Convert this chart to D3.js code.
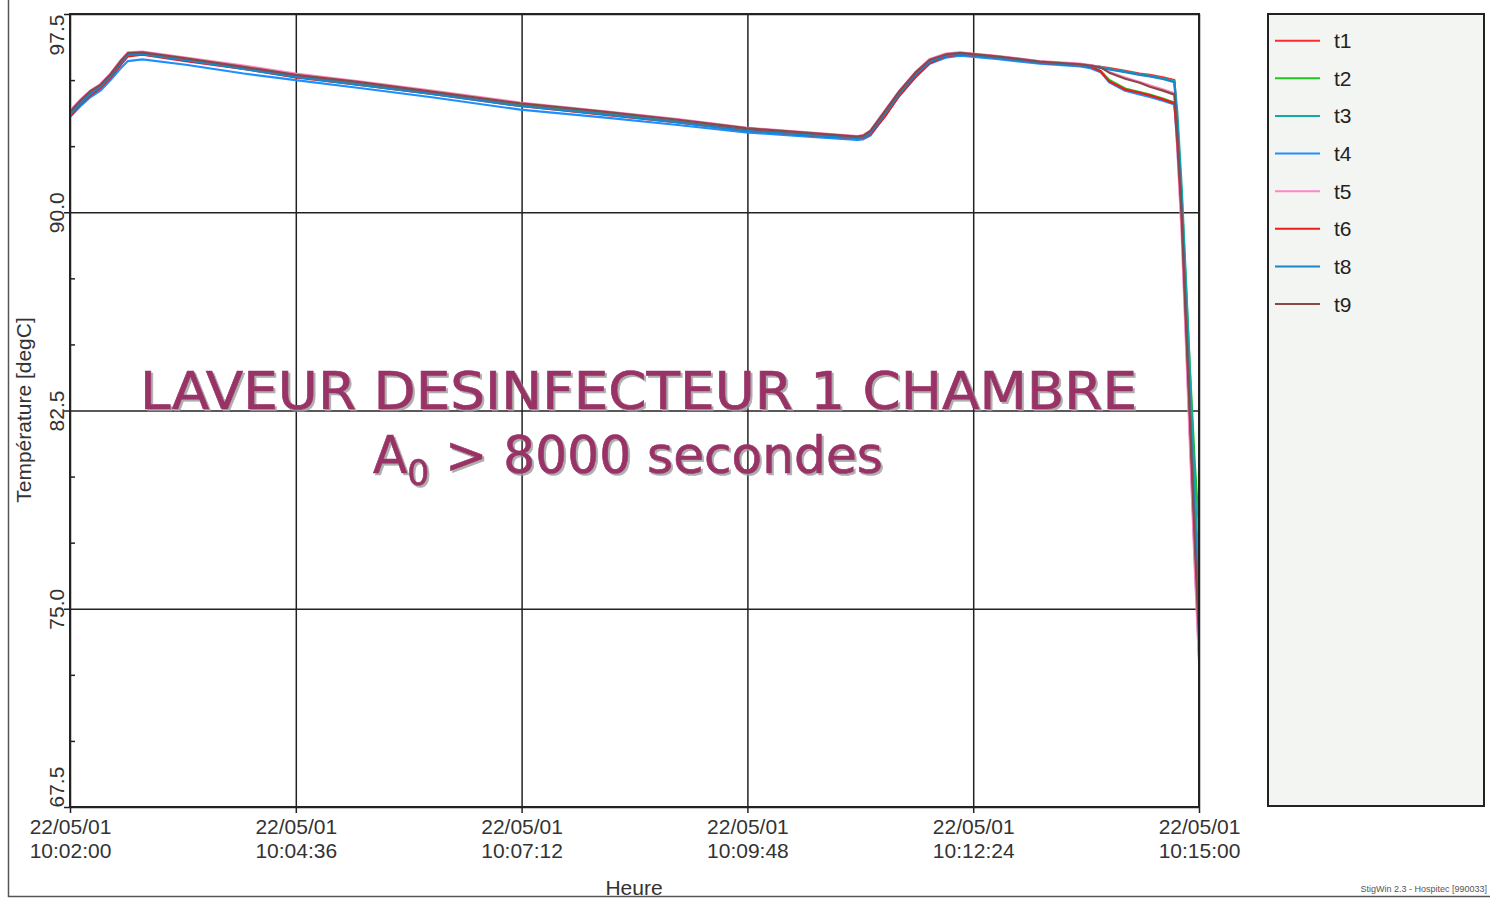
<!DOCTYPE html>
<html>
<head>
<meta charset="utf-8">
<script src="https://cdn.jsdelivr.net/npm/d3@7"></script>
<style>
  body { margin: 0; background: #fff; }
  svg { display: block; font-family: "Liberation Sans", Arial, sans-serif; }
</style>
</head>
<body>
<svg id="chart" width="1490" height="898"></svg>
<script>
// cycle start, all samples are seconds after this
const startTime = new Date(2001, 4, 22, 10, 2, 0);

const seconds = [0, 7, 14, 21, 28, 35, 40, 50, 80, 120, 156, 200, 250, 311, 370, 420, 467, 510,
  544, 548, 553, 563, 573, 584, 594, 605, 615, 640, 670, 698, 705, 712,
  718, 729, 739, 746, 755, 763, 765, 768, 771, 774, 777, 780];

const t1 = [93.65, 94.1, 94.45, 94.72, 95.1, 95.6, 95.92, 96.0, 95.75, 95.45, 95.12, 94.85, 94.5, 94.05, 93.72, 93.42, 93.12, 92.95,
  92.82, 92.84, 92.95, 93.65, 94.45, 95.15, 95.68, 95.92, 96.0, 95.88, 95.68, 95.6, 95.55, 95.5,
  95.45, 95.35, 95.25, 95.2, 95.1, 95.0, 93.4, 90.4, 86.4, 82.4, 78.2, 74.0];
const t2 = [93.72, 94.15, 94.52, 94.78, 95.18, 95.66, 95.97, 96.02, 95.8, 95.48, 95.15, 94.86, 94.52, 94.08, 93.75, 93.45, 93.14, 92.96,
  92.83, 92.86, 93.02, 93.75, 94.52, 95.22, 95.72, 95.93, 96.0, 95.88, 95.68, 95.58, 95.5, 95.35,
  95.0, 94.68, 94.55, 94.45, 94.3, 94.15, 93.0, 90.6, 87.2, 83.8, 80.6, 78.0];
const t3 = [93.75, 94.2, 94.55, 94.8, 95.2, 95.7, 96.0, 96.05, 95.82, 95.5, 95.2, 94.9, 94.55, 94.12, 93.78, 93.48, 93.16, 92.98,
  92.84, 92.88, 93.05, 93.78, 94.55, 95.25, 95.75, 95.95, 96.02, 95.9, 95.7, 95.6, 95.55, 95.5,
  95.42, 95.32, 95.22, 95.16, 95.06, 94.96, 93.8, 91.0, 87.4, 83.6, 79.8, 76.0];
const t4 = [93.6, 94.0, 94.35, 94.6, 95.0, 95.45, 95.72, 95.78, 95.58, 95.25, 95.0, 94.7, 94.35, 93.88, 93.58, 93.3, 93.02, 92.86,
  92.74, 92.76, 92.9, 93.65, 94.4, 95.1, 95.62, 95.85, 95.92, 95.8, 95.62, 95.52, 95.45, 95.3,
  94.92, 94.6, 94.46, 94.36, 94.22, 94.08, 92.5, 89.6, 85.4, 81.2, 77.0, 73.2];
const t5 = [93.85, 94.25, 94.6, 94.85, 95.25, 95.75, 96.05, 96.08, 95.85, 95.55, 95.25, 94.95, 94.6, 94.15, 93.82, 93.52, 93.2, 93.02,
  92.88, 92.92, 93.1, 93.85, 94.6, 95.3, 95.8, 96.0, 96.05, 95.92, 95.72, 95.62, 95.57, 95.5,
  95.3, 95.1, 94.93, 94.8, 94.65, 94.5, 92.4, 89.2, 85.0, 80.8, 76.6, 73.0];
const t6 = [93.62, 94.08, 94.42, 94.7, 95.1, 95.58, 95.9, 95.96, 95.72, 95.42, 95.1, 94.82, 94.48, 94.02, 93.68, 93.4, 93.1, 92.92,
  92.8, 92.82, 92.95, 93.62, 94.42, 95.12, 95.65, 95.9, 95.97, 95.86, 95.66, 95.56, 95.5, 95.33,
  94.95, 94.64, 94.52, 94.42, 94.27, 94.12, 92.7, 90.0, 86.0, 82.0, 78.0, 74.5];
const t8 = [93.7, 94.12, 94.48, 94.75, 95.15, 95.65, 95.95, 95.98, 95.75, 95.42, 95.12, 94.82, 94.48, 94.02, 93.7, 93.4, 93.08, 92.92,
  92.8, 92.84, 93.0, 93.72, 94.5, 95.2, 95.7, 95.92, 95.98, 95.85, 95.66, 95.56, 95.52, 95.46,
  95.4, 95.3, 95.2, 95.14, 95.04, 94.92, 93.2, 90.2, 86.2, 82.2, 78.4, 75.0];
const t9 = [93.8, 94.22, 94.58, 94.82, 95.22, 95.72, 96.02, 96.05, 95.82, 95.5, 95.2, 94.92, 94.56, 94.12, 93.8, 93.5, 93.18, 93.0,
  92.86, 92.9, 93.08, 93.82, 94.58, 95.28, 95.77, 95.97, 96.03, 95.9, 95.7, 95.6, 95.55, 95.48,
  95.28, 95.05, 94.9, 94.75, 94.6, 94.45, 92.9, 89.9, 85.8, 81.8, 77.6, 73.8];

const seriesNames = ["t1", "t2", "t3", "t4", "t5", "t6", "t8", "t9"];
const seriesValues = [t1, t2, t3, t4, t5, t6, t8, t9];
const seriesColors = ["#ff2b2b", "#22c422", "#13a9a6", "#1e8fff", "#ff85c6", "#ee1b1b", "#1a86c8", "#8a4848"];

const xTickSeconds = [0, 156, 312, 468, 624, 780];
const yMajorTicks = [67.5, 75, 82.5, 90, 97.5];
const yMinorTicks = [70, 72.5, 77.5, 80, 85, 87.5, 92.5, 95];

const chartTitle = "LAVEUR DESINFECTEUR 1 CHAMBRE";
const chartSubtitle = ["A", "0", " > 8000 secondes"];

const settings = {
  left: 70, top: 14, right: 1199, bottom: 807,
  legendX: 1268, legendW: 216, legendTop: 14, legendBottom: 806,
  fontSize: 21
};

const svg = d3.select("#chart");
const toDate = s => new Date(startTime.getTime() + s * 1000);

const x = d3.scaleTime()
  .domain([toDate(0), toDate(780)])
  .range([settings.left, settings.right]);
const y = d3.scaleLinear()
  .domain([67.5, 97.5])
  .range([settings.bottom, settings.top]);

svg.append("rect").attr("width", 1490).attr("height", 898).attr("fill", "#fff");

// grey drop shadow for the overlay title
svg.append("defs").append("filter")
  .attr("id", "titleShadow")
  .attr("x", "-5%").attr("y", "-20%").attr("width", "110%").attr("height", "140%")
  .append("feDropShadow")
  .attr("dx", 2).attr("dy", 2).attr("stdDeviation", 0.4)
  .attr("flood-color", "#9a9a9a").attr("flood-opacity", 0.8);

// outer page frame (left + bottom only)
svg.append("path")
  .attr("d", "M8.5,0 V896.5 H1490")
  .attr("fill", "none").attr("stroke", "#555").attr("stroke-width", 1.5);

// x axis with vertical grid lines
const xAxis = svg.append("g")
  .attr("transform", `translate(0,${settings.bottom})`)
  .call(d3.axisBottom(x)
    .tickValues(xTickSeconds.map(toDate))
    .tickSize(-(settings.bottom - settings.top))
    .tickFormat(""));
xAxis.select(".domain").remove();
xAxis.selectAll(".tick line")
  .attr("y1", 6).attr("stroke", "#222").attr("stroke-width", 1.5);
const fmtDay = d3.timeFormat("%d/%m/%y");
const fmtTime = d3.timeFormat("%H:%M:%S");
xAxis.selectAll(".tick text").each(function(d) {
  const t = d3.select(this)
    .attr("y", 0).attr("dy", null)
    .attr("fill", "#333")
    .style("font-size", settings.fontSize + "px")
    .style("font-family", "'Liberation Sans', Arial, sans-serif");
  t.append("tspan").attr("x", 0).attr("y", 27).text(fmtDay(d));
  t.append("tspan").attr("x", 0).attr("y", 51).text(fmtTime(d));
});

// y axis with horizontal grid lines
const yAxis = svg.append("g")
  .attr("transform", `translate(${settings.left},0)`)
  .call(d3.axisLeft(y)
    .tickValues(yMajorTicks)
    .tickSize(-(settings.right - settings.left))
    .tickFormat(""));
yAxis.select(".domain").remove();
yAxis.selectAll(".tick line")
  .attr("x1", -6).attr("stroke", "#222").attr("stroke-width", 1.5);
yAxis.selectAll(".tick").append("text")
  .attr("transform", "translate(-6,0) rotate(-90)")
  .attr("fill", "#333")
  .attr("text-anchor", d => d === 97.5 ? "end" : d === 67.5 ? "start" : "middle")
  .attr("x", 0).attr("y", 0)
  .style("font-size", settings.fontSize + "px")
  .style("font-family", "'Liberation Sans', Arial, sans-serif")
  .text(d => d.toFixed(1));

const yMinor = svg.append("g")
  .attr("transform", `translate(${settings.left},0)`)
  .call(d3.axisLeft(y).tickValues(yMinorTicks).tickSize(-5).tickFormat(""));
yMinor.select(".domain").remove();
yMinor.selectAll(".tick line").attr("stroke", "#222").attr("stroke-width", 1.5);

// data lines
svg.append("clipPath").attr("id", "plotClip")
  .append("rect")
  .attr("x", settings.left).attr("y", settings.top)
  .attr("width", settings.right - settings.left)
  .attr("height", settings.bottom - settings.top);

const line = d3.line()
  .x(d => x(d.date))
  .y(d => y(d.value));

const series = seriesNames.map((name, i) => ({
  name,
  color: seriesColors[i],
  points: seconds.map((s, j) => ({ date: toDate(s), value: seriesValues[i][j] }))
}));

svg.append("g")
  .attr("clip-path", "url(#plotClip)")
  .selectAll("path")
  .data(series)
  .join("path")
  .attr("fill", "none")
  .attr("stroke", d => d.color)
  .attr("stroke-width", 2.2)
  .attr("stroke-linejoin", "round")
  .attr("d", d => line(d.points));

// plot frame
svg.append("rect")
  .attr("x", settings.left).attr("y", settings.top)
  .attr("width", settings.right - settings.left)
  .attr("height", settings.bottom - settings.top)
  .attr("fill", "none").attr("stroke", "#222").attr("stroke-width", 2);

// axis titles
svg.append("text")
  .attr("transform", "translate(31,410) rotate(-90)")
  .attr("text-anchor", "middle")
  .attr("fill", "#333")
  .style("font-size", settings.fontSize + "px")
  .text("Température [degC]");

svg.append("text")
  .attr("x", 634).attr("y", 895)
  .attr("text-anchor", "middle")
  .attr("fill", "#333")
  .style("font-size", settings.fontSize + "px")
  .text("Heure");

svg.append("text")
  .attr("x", 1487).attr("y", 892)
  .attr("text-anchor", "end")
  .attr("fill", "#555")
  .style("font-size", "9px")
  .text("StigWin 2.3 - Hospitec [990033]");

// legend
svg.append("rect")
  .attr("x", settings.legendX).attr("y", settings.legendTop)
  .attr("width", settings.legendW)
  .attr("height", settings.legendBottom - settings.legendTop)
  .attr("fill", "#f3f5f2").attr("stroke", "#222").attr("stroke-width", 2);

const legendY = d3.scalePoint()
  .domain(seriesNames)
  .range([40.7, 304]);

const legendItems = svg.append("g")
  .selectAll("g")
  .data(series)
  .join("g")
  .attr("transform", d => `translate(0,${legendY(d.name)})`);
legendItems.append("line")
  .attr("x1", 1275).attr("x2", 1320)
  .attr("stroke", d => d.color).attr("stroke-width", 2);
legendItems.append("text")
  .attr("x", 1334).attr("y", 7.5)
  .attr("fill", "#222")
  .style("font-size", settings.fontSize + "px")
  .text(d => d.name);

// overlay title
const titleG = svg.append("g")
  .attr("filter", "url(#titleShadow)")
  .attr("fill", "#993366")
  .attr("stroke", "#993366")
  .attr("stroke-width", 0.7)
  .style("font-family", "'DejaVu Sans', Verdana, sans-serif")
  .style("font-size", "52px");

titleG.append("text")
  .attr("x", 140).attr("y", 409)
  .attr("textLength", 997).attr("lengthAdjust", "spacingAndGlyphs")
  .text(chartTitle);

const sub = titleG.append("text")
  .attr("x", 373).attr("y", 473)
  .attr("textLength", 510).attr("lengthAdjust", "spacingAndGlyphs");
sub.append("tspan").text(chartSubtitle[0]);
sub.append("tspan").attr("dy", 12).style("font-size", "36px").text(chartSubtitle[1]);
sub.append("tspan").attr("dy", -12).text(chartSubtitle[2]);
</script>
</body>
</html>
